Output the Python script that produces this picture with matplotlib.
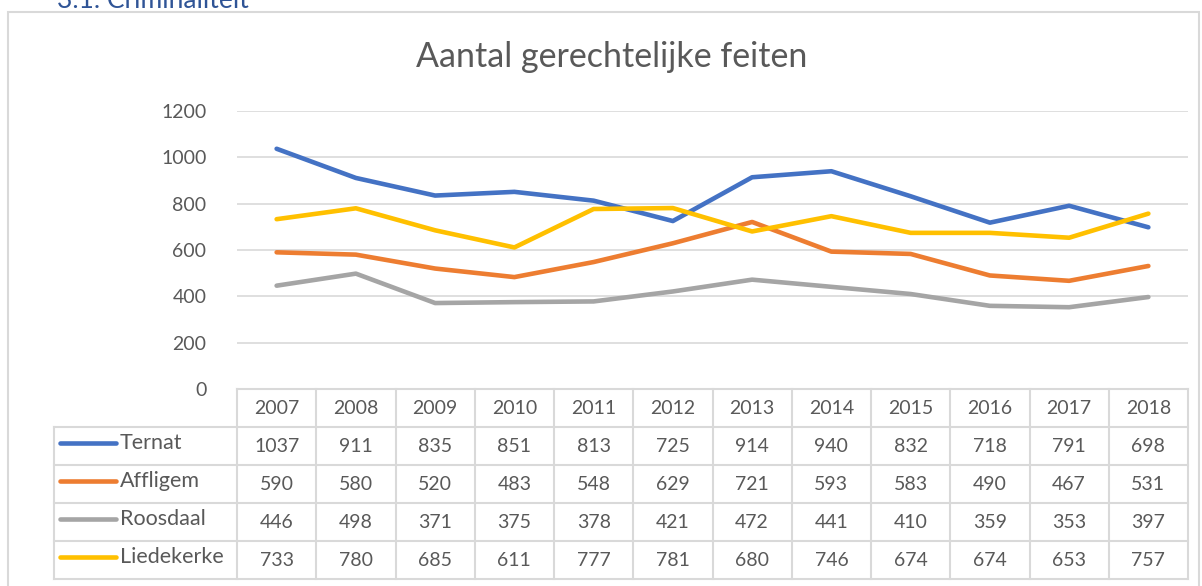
import numpy as np
import matplotlib.pyplot as plt
from matplotlib.patches import Rectangle

years = ['2007', '2008', '2009', '2010', '2011', '2012', '2013', '2014', '2015', '2016', '2017', '2018']
gemeenten = ['Ternat', 'Affligem', 'Roosdaal', 'Liedekerke']
ternat = [1037, 911, 835, 851, 813, 725, 914, 940, 832, 718, 791, 698]
affligem = [590, 580, 520, 483, 548, 629, 721, 593, 583, 490, 467, 531]
roosdaal = [446, 498, 371, 375, 378, 421, 472, 441, 410, 359, 353, 397]
liedekerke = [733, 780, 685, 611, 777, 781, 680, 746, 674, 674, 653, 757]
kleuren = ['#4472C4', '#ED7D31', '#A5A5A5', '#FFC000']

plt.rcParams['font.family'] = ['Lato', 'DejaVu Sans']
txt = '#595959'
grid = '#D9D9D9'

W, H = 1202, 586
fig = plt.figure(figsize=(W / 100, H / 100), dpi=100)

# plot area in pixels: x 237..1188, y 111..389
left, right, top, bottom = 237, 1188, 111, 389
ax = fig.add_axes([left / W, 1 - bottom / H, (right - left) / W, (bottom - top) / H])
ax.set_xlim(-0.5, len(years) - 0.5)
ax.set_ylim(0, 1200)

x = np.arange(len(years))
series = [ternat, affligem, roosdaal, liedekerke]
for vals, c in zip(series, kleuren):
    ax.plot(x, vals, color=c, lw=3.3, solid_capstyle='round', zorder=3)

ax.set_yticks(range(0, 1201, 200))
ax.yaxis.grid(True, color=grid, lw=1.2)
ax.set_axisbelow(True)
for s in ax.spines.values():
    s.set_visible(False)
ax.tick_params(axis='y', length=0, pad=22, labelsize=14, labelcolor=txt)
ax.set_xticks([])

# data table under the plot (y in data units, below zero)
px_y = 1200 / (bottom - top)
px_x = 1 / ((right - left) / len(years))
row_h = 38 * px_y
rows = [0 - i * row_h for i in range(6)]
leg_left = -0.5 - (left - 54) * px_x
lkw = dict(color=grid, lw=1.5, clip_on=False, zorder=1)

ax.plot([-0.5, len(years) - 0.5], [0, 0], **lkw)
for r in rows[1:]:
    ax.plot([leg_left, len(years) - 0.5], [r, r], **lkw)
for i in range(len(years) + 1):
    ax.plot([i - 0.5, i - 0.5], [0, rows[-1]], **lkw)
ax.plot([leg_left, leg_left], [rows[1], rows[-1]], **lkw)

for i, yr in enumerate(years):
    ax.text(i, (rows[0] + rows[1]) / 2, yr, ha='center', va='center',
            fontsize=14, color=txt, clip_on=False)

for j, (naam, vals, c) in enumerate(zip(gemeenten, series, kleuren)):
    ym = (rows[j + 1] + rows[j + 2]) / 2
    ax.plot([leg_left + 6 * px_x, leg_left + 62 * px_x], [ym + 12, ym + 12],
            color=c, lw=3.3, solid_capstyle='round', clip_on=False)
    ax.text(leg_left + 66 * px_x, ym + 12, naam, ha='left', va='center',
            fontsize=15.5, color=txt, clip_on=False)
    for i, v in enumerate(vals):
        ax.text(i, ym, str(v), ha='center', va='center',
                fontsize=14, color=txt, clip_on=False)

# chart border and title
fig.patches.append(Rectangle((8 / W, -0.1), (1199 - 8) / W, 1 - 12 / H + 0.1,
                             transform=fig.transFigure, fill=False,
                             edgecolor=grid, lw=1.5))
fig.text(612 / W, 1 - 57 / H, 'Aantal gerechtelijke feiten', ha='center', va='center',
         fontsize=24.5, color=txt, fontweight='normal')
fig.text(57 / W, 1 - 0 / H, '3.1. Criminaliteit', ha='left', va='center',
         fontsize=19, color='#2F5496')

fig.savefig('out.png', dpi=100)
